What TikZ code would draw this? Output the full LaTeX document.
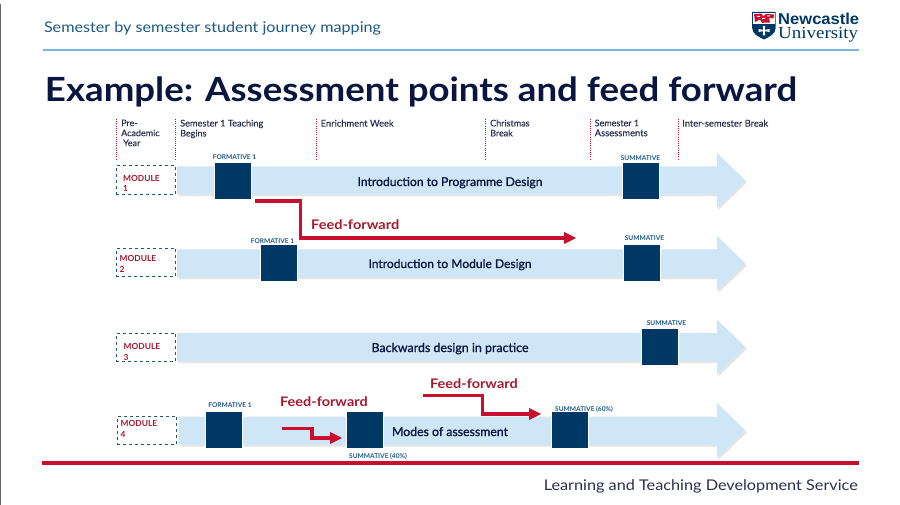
\documentclass[tikz,border=0pt]{standalone}
\usepackage{fontspec}
\usepackage{graphicx}
\usetikzlibrary{calc}
\setmainfont{Lato}
\newfontfamily\rw[FakeStretch=1.1]{Lato}
\newfontfamily\rwm[FakeBold=1.1]{Lato}
\newfontfamily\rwl[FakeBold=0.25]{Lato}
\newfontfamily\rwb[FakeStretch=1.1]{Lato Bold}
\newfontfamily\rwt{Lato Bold}
\newfontfamily\logosf{Liberation Sans}
\newfontfamily\logose{Liberation Serif}
\definecolor{navy}{HTML}{003865}
\definecolor{ink}{HTML}{0A1640}
\definecolor{headblue}{HTML}{1F5A85}
\definecolor{labink}{HTML}{2A3050}
\definecolor{pale}{HTML}{CFE6F6}
\definecolor{rulered}{HTML}{C8102E}
\definecolor{modred}{HTML}{A6192E}
\definecolor{ruleblue}{HTML}{7DB5DC}
\newcommand{\fw}[2]{\resizebox{#1pt}{!}{#2}}
\tikzset{
  txt/.style={inner sep=0pt,outer sep=0pt,anchor=base west},
  phase/.style={inner sep=0pt,anchor=north west,align=left,font={\rwl\fontsize{9}{10}\selectfont},text=labink},
  phaseline/.style={draw=rulered,line width=.9pt,dash pattern=on 1.1pt off 1.1pt},
  modbox/.style={draw=headblue,dashed,line width=.9pt,fill=white,minimum width=59.5pt,minimum height=28.5pt,inner sep=0pt},
  modtext/.style={inner sep=0pt,anchor=north west,align=left,font={\rwt\fontsize{8.4}{10.6}\selectfont},text=modred},
  square/.style={fill=navy,draw=white,line width=.3pt,minimum width=37pt,minimum height=37pt,inner sep=0pt},
  tag/.style={inner sep=0pt,anchor=base,text=headblue,font={\rwt\fontsize{6.6}{7}\selectfont}},
  title/.style={inner sep=0pt,anchor=base,text=ink},
  ff/.style={inner sep=0pt,anchor=base west,text=modred},
  ffarrow/.style={draw=rulered,line width=3.6pt,miter limit=10},
  ffhead/.style={fill=rulered},
  logotext/.style={inner sep=0pt,anchor=base west,text=navy},
}
\newcommand{\bandarrow}[2]{% x-left, y-centre
  \fill[black,opacity=.1] (#1+1.5,#2-12.5) -- (718.5,#2-12.5) -- (718.5,#2-25.5) -- (747,#2+2) -- (718.5,#2+29.5) -- (718.5,#2+16) -- (#1+1.5,#2+16) -- cycle;
  \fill[pale] (#1,#2-14) -- (717,#2-14) -- (717,#2-27.5) -- (745.5,#2) -- (717,#2+27.5) -- (717,#2+14) -- (#1,#2+14) -- cycle;
}
\begin{document}
\begin{tikzpicture}[x=1pt,y=-1pt]
\useasboundingbox (0,0) rectangle (900,505);
\fill[white] (0,0) rectangle (900,505);
\draw[gray!80!black,line width=1pt] (0.5,4) -- (0.5,505);

% header
\node[txt,text=headblue] (hdr) at (44,33) {\fw{337}{\rw Semester by semester student journey mapping}};
\draw[ruleblue,line width=1.4pt] (43,50) -- (859,50);
\node[txt,text=ink] (ttl) at (45,101.5) {\fw{752}{\rwb Example: Assessment points and feed forward}};

% logo
\fill[navy] (752.2,12) -- (775.7,12) -- (775.7,28) .. controls (775.7,34) and (769,37) .. (764,39.5) .. controls (759,37) and (752.2,34) .. (752.2,28) -- cycle;
\fill[white] (753.1,13) rectangle (774.8,23.6);
\fill[rulered] (754,14) -- (762,13.6) -- (763,16.5) -- (766,14) -- (774,14.5) -- (773.5,18.5) -- (769,18) -- (770,22.5) -- (762,22.8) -- (760,19.5) -- (755,22) -- cycle;
\fill[white] (762,18) rectangle (765,19) (757,16) rectangle (760,17) (767,15.5) rectangle (770,16.5);
\fill[white] (762.8,26) -- (765.2,26) -- (764.8,29.8) -- (769.5,29) -- (769.5,32) -- (764.8,31.2) -- (765.2,35.5) -- (762.8,35.5) -- (763.2,31.2) -- (758.5,32) -- (758.5,29) -- (763.2,29.8) -- cycle;
\node[logotext] (lg1) at (778,24.2) {\resizebox{81pt}{11.4pt}{\logosf\bfseries Newcastle}};
\node[logotext] (lg2) at (778,39) {\resizebox{80pt}{11.2pt}{\logose University}};

% phase markers
\foreach \x in {116,175,316,485.7,590.7,678} \draw[phaseline] (\x,119) -- (\x,160);
\node[phase] (p1) at (121,119.5) {Pre-\\Academic\\\hspace*{2pt}Year};
\node[phase] (p2) at (180,119.5) {\fw{83}{Semester 1 Teaching}\\Begins};
\node[phase] (p3) at (320.5,119.5) {\fw{73}{Enrichment Week}};
\node[phase] (p4) at (490,119.5) {Christmas\\Break};
\node[phase] (p5) at (594.5,119.5) {Semester 1\\\fw{53}{Assessments}};
\node[phase] (p6) at (682,119.5) {\fw{86}{Inter-semester Break}};

% rows
\bandarrow{177}{180.5}
\bandarrow{177}{263.5}
\bandarrow{177}{347}
\bandarrow{179}{430.5}

\node[modbox] (m1) at (145.8,180) {};
\node[modbox] (m2) at (145.8,262.5) {};
\node[modbox] (m3) at (145.8,347.5) {};
\node[modbox] (m4) at (147,430.5) {};
\node[modtext] (mt1) at (123,175) {MODULE\\1};
\node[modtext] (mt2) at (119.5,255.5) {MODULE\\2};
\node[modtext] (mt3) at (123.5,343.5) {MODULE\\3};
\node[modtext] (mt4) at (120.5,420.5) {MODULE\\4};

\node[title] (b1) at (450,186) {\fw{185}{\rwm Introduction to Programme Design}};
\node[title] (b2) at (450,268) {\fw{163}{\rwm Introduction to Module Design}};
\node[title] (b3) at (450,352) {\fw{157}{\rwm Backwards design in practice}};
\node[title] (b4) at (450,436) {\fw{116}{\rwm Modes of assessment}};

\node[square] (s1a) at (232.5,180.5) {};
\node[square] (s1b) at (641,180.5) {};
\node[square] (s2a) at (278.3,263) {};
\node[square] (s2b) at (641.3,263) {};
\node[square] (s3b) at (660,347) {};
\node[square] (s4a) at (224,430) {};
\node[square] (s4b) at (365,430) {};
\node[square] (s4c) at (570,430) {};

\node[tag] (t1a) at (234.5,159.5) {FORMATIVE 1};
\node[tag] (t1b) at (640.5,161) {SUMMATIVE};
\node[tag] (t2a) at (272.5,243.5) {FORMATIVE 1};
\node[tag] (t2b) at (644.5,240.5) {SUMMATIVE};
\node[tag] (t3b) at (666.5,325.5) {SUMMATIVE};
\node[tag] (t4a) at (230,407.5) {FORMATIVE 1};
\node[tag] (t4b) at (378,458.5) {SUMMATIVE (40\%)};
\node[tag] (t4c) at (584,411) {SUMMATIVE (60\%)};

% feed-forward arrows
\coordinate (a0) at (255,201); \coordinate (a1) at (300.5,201);
\coordinate (a2) at (300.5,238); \coordinate (a3) at (564,238); \coordinate (a4) at (576,238);
\draw[ffarrow] (a0) -- (a1) -- (a2) -- (a3);
\fill[ffhead] ($(a3)+(0,-6)$) -- (a4) -- ($(a3)+(0,6)$) -- cycle;
\coordinate (b0) at (282,428.5); \coordinate (b1c) at (311.7,428.5);
\coordinate (b2c) at (311.7,438); \coordinate (b3c) at (330,438); \coordinate (b4c) at (342,438);
\draw[ffarrow] (b0) -- (b1c) -- (b2c) -- (b3c);
\fill[ffhead] ($(b3c)+(0,-6)$) -- (b4c) -- ($(b3c)+(0,6)$) -- cycle;
\coordinate (c0) at (423,395.5); \coordinate (c1) at (482.5,395.5);
\coordinate (c2) at (482.5,414); \coordinate (c3) at (529,414); \coordinate (c4) at (541,414);
\draw[ffarrow] (c0) -- (c1) -- (c2) -- (c3);
\fill[ffhead] ($(c3)+(0,-6)$) -- (c4) -- ($(c3)+(0,6)$) -- cycle;
\node[ff] (f1) at (311,229.5) {\fw{88}{\rwb Feed-forward}};
\node[ff] (f2) at (280,406) {\fw{87.5}{\rwb Feed-forward}};
\node[ff] (f3) at (430,388.5) {\fw{87.5}{\rwb Feed-forward}};

% footer
\draw[rulered,line width=4pt] (42,463) -- (859,463);
\node[inner sep=0pt,anchor=base east,text=labink] (ftr) at (858,490) {\fw{314}{\rw Learning and Teaching Development Service}};
\end{tikzpicture}
\end{document}
